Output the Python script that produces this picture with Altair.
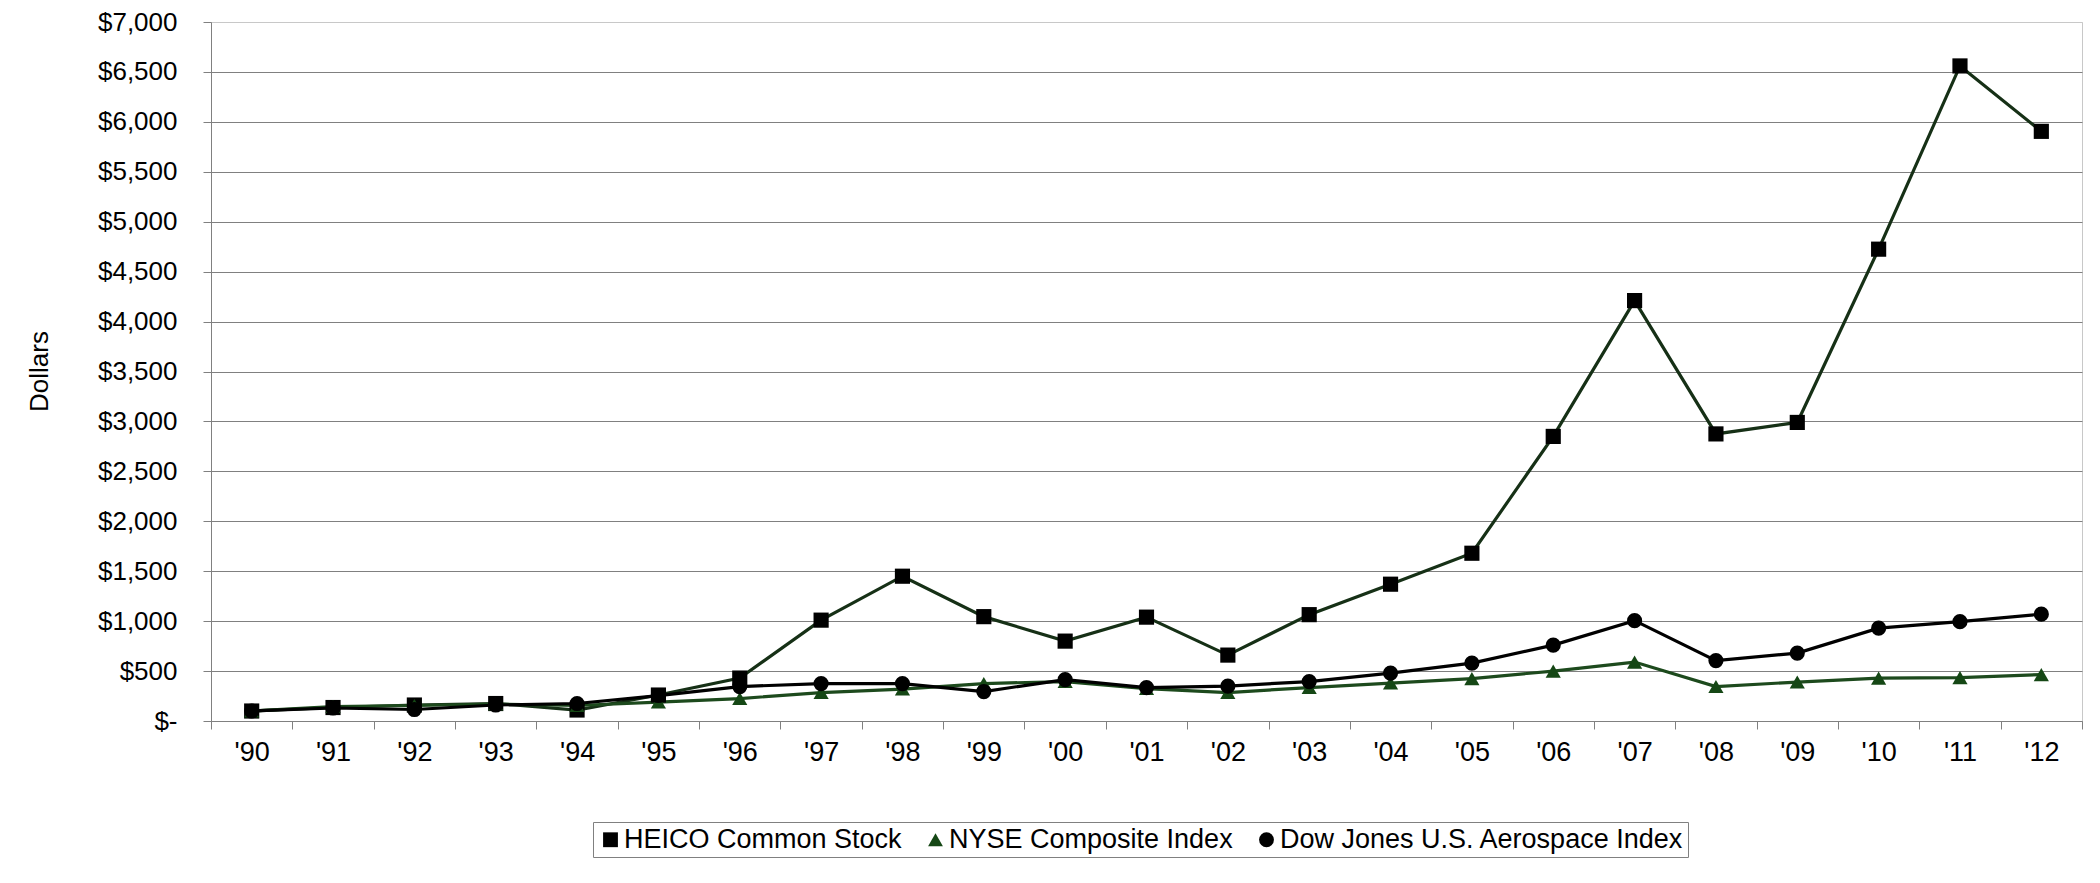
import altair as alt
import pandas as pd

years = ["'90", "'91", "'92", "'93", "'94", "'95", "'96", "'97", "'98", "'99", "'00", "'01",
         "'02", "'03", "'04", "'05", "'06", "'07", "'08", "'09", "'10", "'11", "'12"]

heico = [100, 135, 160, 175, 110, 260, 430, 1010, 1450, 1045, 800, 1040,
         660, 1065, 1370, 1680, 2850, 4210, 2875, 2990, 4725, 6560, 5905]
nyse = [100, 145, 155, 170, 155, 190, 225, 285, 320, 375, 395, 325,
        285, 335, 380, 425, 500, 590, 345, 390, 430, 435, 465]
dow = [100, 130, 115, 160, 175, 255, 345, 375, 375, 295, 415, 335,
       350, 395, 480, 580, 760, 1005, 605, 680, 930, 995, 1070]

series_names = ["HEICO Common Stock", "NYSE Composite Index", "Dow Jones U.S. Aerospace Index"]
line_colors = ["#163016", "#1d4a1d", "#000000"]
fill_colors = ["#000000", "#154715", "#000000"]
shapes = ["square", "triangle-up", "circle"]
y_ticks = list(range(0, 7001, 500))

rows = []
for name, vals in zip(series_names, [heico, nyse, dow]):
    for yr, v in zip(years, vals):
        rows.append({"year": yr, "value": v, "series": name})
df = pd.DataFrame(rows)

FONT = "Liberation Sans"

x_enc = alt.X(
    "year:O",
    sort=years,
    bandPosition=0.5,
    scale=alt.Scale(type="band", paddingInner=0, paddingOuter=0),
    axis=alt.Axis(
        title=None, labelAngle=0, tickBand="extent", grid=False,
        labelFontSize=27, labelPadding=10, tickSize=8,
        labelColor="#000000", tickColor="#808080", domainColor="#808080",
    ),
)
y_enc = alt.Y(
    "value:Q",
    scale=alt.Scale(domain=[0, 7000], nice=False),
    axis=alt.Axis(
        title="Dollars", values=y_ticks,
        labelExpr="datum.value == 0 ? '$-' : '$' + format(datum.value, ',')",
        labelFontSize=26, labelPadding=26, tickSize=8,
        labelColor="#000000", tickColor="#808080", domainColor="#808080",
        gridColor={"condition": {"test": "datum.value === 7000", "value": "#c8c8c8"}, "value": "#808080"},
        titleFontSize=26, titleFontWeight="normal", titleColor="#000000",
        titleX=-172, titleY=349, titleAlign="center", titleBaseline="middle", titleAngle=270,
    ),
)

legend = alt.Legend(
    title=None, orient="none", legendX=382, legendY=800, direction="horizontal",
    labelFont=FONT, labelFontSize=27, labelColor="#000000", labelLimit=600,
    strokeColor="#808080", padding=4, columnPadding=20, labelOffset=0,
    symbolSize=220, symbolStrokeWidth=0,
)

line_layers = [
    alt.Chart(df)
    .transform_filter(alt.datum.series == name)
    .mark_line(strokeWidth=3.2, color=col)
    .encode(x=x_enc, y=y_enc)
    for name, col in zip(series_names, line_colors)
]

points = alt.Chart(df).mark_point(filled=True, size=230, opacity=1).encode(
    x=x_enc,
    y=y_enc,
    fill=alt.Fill("series:N", scale=alt.Scale(domain=series_names, range=fill_colors), legend=legend),
    shape=alt.Shape("series:N", scale=alt.Scale(domain=series_names, range=shapes), legend=legend),
)

chart = alt.layer(*line_layers, points).properties(
    width=1871,
    height=699,
    autosize=alt.AutoSizeParams(type="none"),
    padding={"left": 203, "top": 14, "right": 10, "bottom": 150},
).configure(
    font=FONT,
).configure_view(
    stroke="#c8c8c8",
).configure_axis(
    labelFont=FONT, titleFont=FONT,
)

chart.save("out.html", embed_options={"renderer": "svg", "actions": False})
